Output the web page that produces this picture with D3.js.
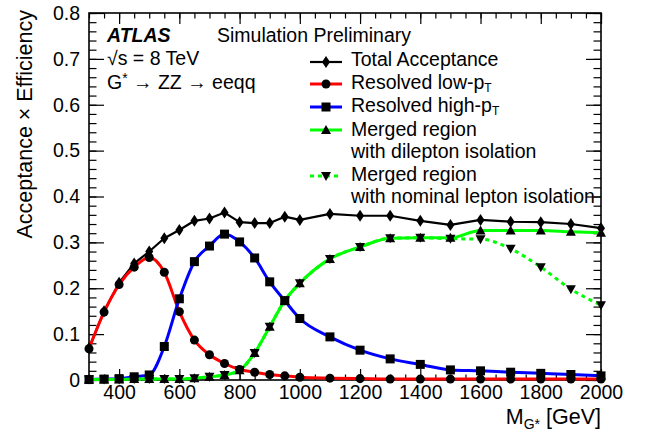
<!DOCTYPE html>
<html>
<head>
<meta charset="utf-8">
<script src="https://cdn.jsdelivr.net/npm/d3@7"></script>
<style>
  html, body { margin: 0; padding: 0; background: #fff; }
  svg { display: block; font-family: "Liberation Sans", Arial, Helvetica, sans-serif; }
</style>
</head>
<body>
<svg id="chart" width="646" height="438"></svg>
<script>
// ---------------- data ----------------
const mass = [300, 350, 400, 450, 500, 550, 600, 650, 700, 750, 800, 850, 900, 950, 1000,
              1100, 1200, 1300, 1400, 1500, 1600, 1700, 1800, 1900, 2000];
const totalAcc = [0.070, 0.150, 0.212, 0.254, 0.280, 0.309, 0.327, 0.347, 0.352, 0.365, 0.344, 0.342, 0.342, 0.356, 0.349,
                  0.362, 0.358, 0.358, 0.347, 0.338, 0.349, 0.345, 0.344, 0.340, 0.331];
const resolvedLow = [0.068, 0.148, 0.208, 0.246, 0.267, 0.235, 0.149, 0.087, 0.055, 0.036, 0.023, 0.017, 0.012, 0.009, 0.006,
                     0.004, 0.003, 0.002, 0.002, 0.002, 0.002, 0.002, 0.002, 0.002, 0.002];
const resolvedHigh = [0.001, 0.002, 0.003, 0.007, 0.011, 0.073, 0.177, 0.258, 0.292, 0.318, 0.301, 0.266, 0.214, 0.173, 0.134,
                      0.094, 0.065, 0.046, 0.034, 0.022, 0.020, 0.017, 0.0145, 0.012, 0.009];
const mergedDilep = [0.001, 0.001, 0.001, 0.002, 0.002, 0.002, 0.002, 0.004, 0.007, 0.011, 0.021, 0.059, 0.116, 0.173, 0.211,
                     0.264, 0.290, 0.309, 0.310, 0.310, 0.326, 0.326, 0.326, 0.323, 0.321];
const mergedNominal = [0.001, 0.001, 0.001, 0.002, 0.002, 0.002, 0.002, 0.004, 0.007, 0.011, 0.021, 0.059, 0.116, 0.173, 0.211,
                       0.264, 0.290, 0.309, 0.310, 0.308, 0.307, 0.286, 0.246, 0.198, 0.163];

const xMajorTicks = [400, 600, 800, 1000, 1200, 1400, 1600, 1800, 2000];
const xMinorTicks = d3.range(300, 2001, 50);
const yMajorTicks = [0, 0.1, 0.2, 0.3, 0.4, 0.5, 0.6, 0.7, 0.8];
const yMinorTicks = d3.range(0, 0.8001, 0.02);
const yTickLabels = ["0", "0.1", "0.2", "0.3", "0.4", "0.5", "0.6", "0.7", "0.8"];

// ---------------- layout ----------------
const svg = d3.select("#chart");
const L = 89, R = 601, T = 13, B = 380;
const x = d3.scaleLinear().domain([300, 2000]).range([L, R]);
const y = d3.scaleLinear().domain([0, 0.8]).range([B, T]);
const FS = 19.5;      // legend / label text
const TFS = 19.5;     // tick labels
const AFS = 21.5;     // axis titles

// ---------------- axes ----------------
function styleAxis(g) {
  g.select(".domain").remove();
  g.selectAll(".tick line").attr("stroke", "#000").attr("stroke-width", 1.2);
  g.selectAll(".tick text").attr("fill", "#000").style("font-size", TFS + "px")
    .style("font-family", '"Liberation Sans", Arial, sans-serif');
}
// bottom
svg.append("g").attr("transform", `translate(0,${B})`)
  .call(d3.axisBottom(x).tickValues(xMinorTicks).tickSize(-5.5).tickFormat(""))
  .call(styleAxis);
svg.append("g").attr("transform", `translate(0,${B})`)
  .call(d3.axisBottom(x).tickValues(xMajorTicks).tickSizeInner(-11).tickSizeOuter(0).tickPadding(5).tickFormat(d3.format("d")))
  .call(styleAxis);
// top
svg.append("g").attr("transform", `translate(0,${T})`)
  .call(d3.axisTop(x).tickValues(xMinorTicks).tickSize(-5.5).tickFormat(""))
  .call(styleAxis);
svg.append("g").attr("transform", `translate(0,${T})`)
  .call(d3.axisTop(x).tickValues(xMajorTicks).tickSize(-11).tickFormat(""))
  .call(styleAxis);
// left
svg.append("g").attr("transform", `translate(${L},0)`)
  .call(d3.axisLeft(y).tickValues(yMinorTicks).tickSize(-7.5).tickFormat(""))
  .call(styleAxis);
svg.append("g").attr("transform", `translate(${L},0)`)
  .call(d3.axisLeft(y).tickValues(yMajorTicks).tickSizeInner(-15).tickSizeOuter(0).tickPadding(9)
    .tickFormat((d, i) => yTickLabels[i]))
  .call(styleAxis);
// right
svg.append("g").attr("transform", `translate(${R},0)`)
  .call(d3.axisRight(y).tickValues(yMinorTicks).tickSize(-7.5).tickFormat(""))
  .call(styleAxis);
svg.append("g").attr("transform", `translate(${R},0)`)
  .call(d3.axisRight(y).tickValues(yMajorTicks).tickSize(-15).tickFormat(""))
  .call(styleAxis);

// frame
svg.append("rect").attr("x", L).attr("y", T).attr("width", R - L).attr("height", B - T)
  .attr("fill", "none").attr("stroke", "#000").attr("stroke-width", 1.6);

// ---------------- series ----------------
const series = [
  { name: "nominal", vals: mergedNominal, color: "#00ff00", dash: "4,4", curve: d3.curveMonotoneX, width: 3, marker: "tdown" },
  { name: "total", vals: totalAcc, color: "#000000", dash: null, curve: d3.curveLinear, width: 2.2, marker: "diamond" },
  { name: "low", vals: resolvedLow, color: "#ff0000", dash: null, curve: d3.curveMonotoneX, width: 3, marker: "circle" },
  { name: "high", vals: resolvedHigh, color: "#0000ff", dash: null, curve: d3.curveMonotoneX, width: 3, marker: "square" },
  { name: "dilep", vals: mergedDilep, color: "#00ff00", dash: null, curve: d3.curveMonotoneX, width: 3, marker: "tup" }
];

function markerPath(type) {
  switch (type) {
    case "diamond": return "M0,-6L4,0L0,6L-4,0Z";
    case "square": return "M-4.5,-4.5H4.5V4.5H-4.5Z";
    case "tup": return "M0,-5L5,4L-5,4Z";
    case "tdown": return "M0,5L5,-4L-5,-4Z";
    default: return d3.symbol(d3.symbolCircle, 64)();
  }
}

series.forEach(s => {
  const line = d3.line().x((d, i) => x(mass[i])).y(d => y(d)).curve(s.curve);
  svg.append("path").datum(s.vals).attr("d", line)
    .attr("fill", "none").attr("stroke", s.color).attr("stroke-width", s.width)
    .attr("stroke-dasharray", s.dash).attr("stroke-linejoin", "round");
});
series.forEach(s => {
  svg.append("g").selectAll("path").data(s.vals).join("path")
    .attr("transform", (d, i) => `translate(${x(mass[i])},${y(d)})`)
    .attr("d", markerPath(s.marker)).attr("fill", "#000");
});

// ---------------- texts ----------------
const txt = (xx, yy, str, opts = {}) => {
  const t = svg.append("text").attr("x", xx).attr("y", yy).attr("fill", "#000")
    .style("font-size", (opts.fs || FS) + "px");
  if (opts.weight) t.style("font-weight", opts.weight);
  if (opts.italic) t.style("font-style", "italic");
  if (opts.anchor) t.attr("text-anchor", opts.anchor);
  t.text(str);
  return t;
};
txt(107, 42, "ATLAS", { weight: "bold", italic: true });
txt(217, 42, "Simulation Preliminary");
txt(107, 65, "√s = 8 TeV");
const g2 = txt(107, 89, "G");
g2.append("tspan").attr("dy", -6).style("font-size", "14px").text("*");
g2.append("tspan").attr("dy", 6).text(" → ZZ → eeqq");

// legend
const legendRows = [
  { ly: 62, ty: 66, s: series[1], label: ["Total Acceptance"] },
  { ly: 84, ty: 88.5, s: series[2], label: ["Resolved low-p", "T"] },
  { ly: 107, ty: 112, s: series[3], label: ["Resolved high-p", "T"] },
  { ly: 130, ty: 136, s: series[4], label: ["Merged region"] },
  { ly: 176, ty: 181, s: series[0], label: ["Merged region"] }
];
legendRows.forEach(r => {
  svg.append("line").attr("x1", 310).attr("x2", 342).attr("y1", r.ly).attr("y2", r.ly)
    .attr("stroke", r.s.color).attr("stroke-width", r.s.width).attr("stroke-dasharray", r.s.dash);
  svg.append("path").attr("transform", `translate(326,${r.ly})`).attr("d", markerPath(r.s.marker)).attr("fill", "#000");
  const t = txt(351, r.ty, r.label[0]);
  if (r.label[1]) t.append("tspan").attr("dy", 3.2).style("font-size", "12px").text(r.label[1]);
});
txt(351, 158, "with dilepton isolation");
txt(351, 203, "with nominal lepton isolation");

// axis titles
svg.append("text").attr("transform", "translate(32,10) rotate(-90)").attr("text-anchor", "end")
  .style("font-size", AFS + "px").attr("fill", "#000").text("Acceptance × Efficiency");
const xt = svg.append("text").attr("x", 601).attr("y", 424).attr("text-anchor", "end")
  .style("font-size", AFS + "px").attr("fill", "#000");
xt.append("tspan").text("M");
xt.append("tspan").attr("dy", 5).style("font-size", "14px").text("G*");
xt.append("tspan").attr("dy", -5).text(" [GeV]");
</script>
</body>
</html>
